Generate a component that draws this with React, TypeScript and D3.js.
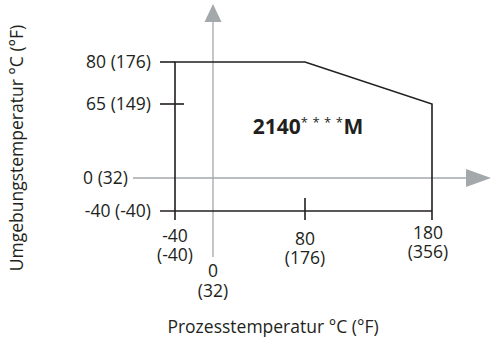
import React from 'react';
import * as d3 from 'd3';

// Process temperature (°C) and its °F label
const xTicksC = [-40, 80, 180];
const xTicksF = ['(-40)', '(176)', '(356)'];
// Ambient temperature (°C) and its °F label
const yTicksC = [80, 65, 0, -40];
const yTicksF = ['(176)', '(149)', '(32)', '(-40)'];
// Operating envelope corners [process °C, ambient °C]
const envelope: [number, number][] = [[-40, -40], [-40, 80], [80, 80], [180, 65], [180, -40]];

const W = 491;
const H = 337;
const ink = '#231f20';
const axisGrey = '#a3a8ab';
const font = '"Open Sans", "DejaVu Sans", sans-serif';
const tickFont = 17.5;
const titleFont = 17.5;

const App: React.FC = () => {
	// schematic (non-uniform) scales, as in the source drawing
	const x = d3.scaleLinear().domain([-40, 0, 80, 180]).range([175, 213, 305, 432]);
	const y = d3.scaleLinear().domain([-40, 0, 65, 80]).range([211, 178, 104, 62]);

	const line = d3.line<[number, number]>().x(d => x(d[0])).y(d => y(d[1]));
	const x0 = x(0);
	const y0 = y(0);
	const left = x(-40) - 15;

	return (
		<div style={{ position: 'fixed', left: 0, top: 0 }}>
			<svg width={W} height={H} viewBox={`0 0 ${W} ${H}`} style={{ display: 'block', background: '#fff', fontFamily: font }}>
				{/* grey reference axes */}
				<line x1={x0} x2={x0} y1={257} y2={20} stroke={axisGrey} strokeWidth={1.3} />
				<path d={`M${x0 - 8.5},22 L${x0},4 L${x0 + 8.5},22 Z`} fill={axisGrey} />
				<line x1={133} x2={468} y1={y0} y2={y0} stroke={axisGrey} strokeWidth={1.3} />
				<path d={`M466,${y0 - 9} L491,${y0} L466,${y0 + 9} Z`} fill={axisGrey} />

				{/* envelope */}
				<path d={line(envelope) ?? ''} fill="none" stroke={ink} strokeWidth={1.6} />
				{/* extensions / ticks */}
				<line x1={left} x2={x(-40)} y1={y(80)} y2={y(80)} stroke={ink} strokeWidth={1.6} />
				<line x1={left} x2={x(180)} y1={y(-40)} y2={y(-40)} stroke={ink} strokeWidth={1.6} />
				<line x1={left} x2={x(-40) + 9} y1={y(65)} y2={y(65)} stroke={ink} strokeWidth={1.6} />
				{xTicksC.map(v => (
					<line key={v} x1={x(v)} x2={x(v)} y1={v === 80 ? y(-40) - 13 : y(-40)} y2={y(-40) + 9} stroke={ink} strokeWidth={1.6} />
				))}

				{/* y tick labels */}
				{yTicksC.map((v, i) => (
					<text key={v} x={v === 0 ? 128 : 151} y={y(v)} dy="0.36em" textAnchor="end" fontSize={tickFont} fill={ink}>
						{`${v} ${yTicksF[i]}`}
					</text>
				))}

				{/* x tick labels */}
				{xTicksC.map((v, i) => {
					const base = v === 180 ? 239 : v === 80 ? 245 : 242;
					const cx = v === 180 ? x(v) - 4 : x(v);
					return (
						<g key={v} textAnchor="middle" fontSize={tickFont} fill={ink}>
							<text x={cx} y={base}>{v}</text>
							<text x={cx} y={base + 19}>{xTicksF[i]}</text>
						</g>
					);
				})}
				<g textAnchor="middle" fontSize={tickFont} fill={ink}>
					<text x={x0} y={277}>0</text>
					<text x={x0} y={297}>(32)</text>
				</g>

				{/* model label */}
				<text x={308} y={134} textAnchor="middle" fontSize={21} fill={ink}>
					<tspan fontWeight="bold">2140</tspan>
					<tspan fontSize={13} dy={-7} letterSpacing={4.5}>****</tspan>
					<tspan fontWeight="bold" dy={7} dx={-4}>M</tspan>
				</text>

				{/* axis titles */}
				<text x={273} y={333} textAnchor="middle" fontSize={titleFont} fill={ink}>Prozesstemperatur °C (°F)</text>
				<text transform="translate(23,148) rotate(-90)" textAnchor="middle" fontSize={titleFont} fill={ink}>
					Umgebungstemperatur °C (°F)
				</text>
			</svg>
		</div>
	);
};

export default App;
